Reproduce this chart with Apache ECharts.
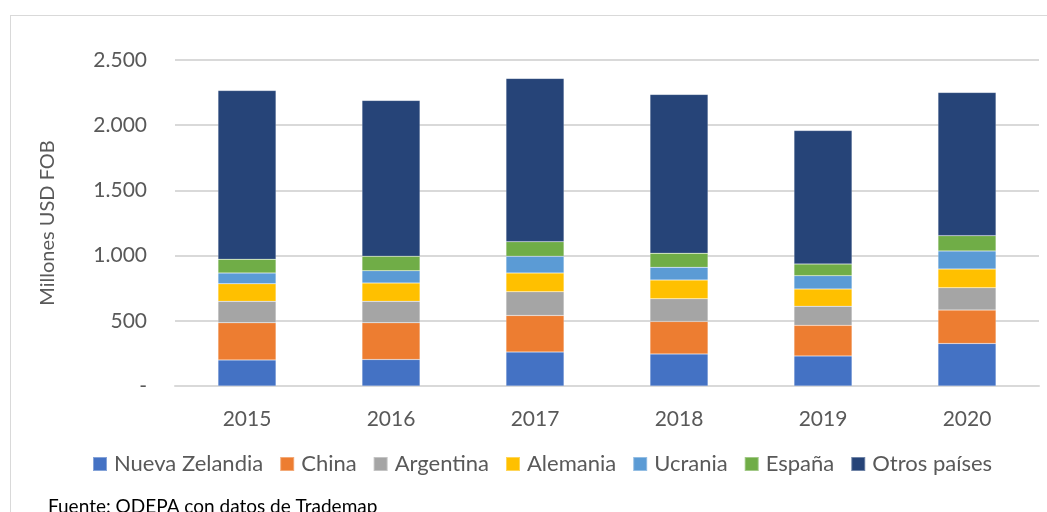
<!DOCTYPE html>
<html>
<head>
<meta charset="utf-8">
<script src="https://cdn.jsdelivr.net/npm/echarts@6/dist/echarts.min.js"></script>
<style>
  html, body { margin: 0; padding: 0; background: #fff; }
  #wrap { position: relative; width: 1047px; height: 512px; overflow: hidden; }
  #frame { position: absolute; left: 10px; top: 15px; width: 1050px; height: 520px;
           border-left: 1px solid #d9d9d9; border-top: 1px solid #d9d9d9; }
  #myChart { position: absolute; left: 0; top: 0; width: 1047px; height: 512px; }
</style>
</head>
<body>
<div id="wrap">
  <div id="frame"></div>
  <div id="myChart"></div>
</div>
<script>
// años
const years = ['2015', '2016', '2017', '2018', '2019', '2020']
// millones USD FOB por destino
const nuevaZelandia = [200, 203, 261, 246, 231, 326]
const china = [285, 282, 280, 249, 234, 256]
const argentina = [164, 164, 182, 174, 146, 172]
const alemania = [135, 141, 144, 144, 133, 143]
const ucrania = [83, 94, 128, 97, 102, 139]
const espana = [105, 111, 112, 108, 90, 117]
const otrosPaises = [1294, 1195, 1252, 1218, 1023, 1098]
const yTicks = [0, 500, 1000, 1500, 2000, 2500]

const seriesDefs = [
    { name: 'Nueva Zelandia', data: nuevaZelandia, color: '#4472C4' },
    { name: 'China', data: china, color: '#ED7D31' },
    { name: 'Argentina', data: argentina, color: '#A5A5A5' },
    { name: 'Alemania', data: alemania, color: '#FFC000' },
    { name: 'Ucrania', data: ucrania, color: '#5B9BD5' },
    { name: 'España', data: espana, color: '#70AD47' },
    { name: 'Otros países', data: otrosPaises, color: '#264478' }
]

const font = 'Lato, "Open Sans", sans-serif'
let myChart = echarts.init(document.getElementById('myChart'))
myChart.setOption({
    animation: false,
    textStyle: { fontFamily: font },
    color: seriesDefs.map(s => s.color),
    grid: { left: 175, right: 8, top: 60, bottom: 126, containLabel: false },
    legend: {
        top: 448,
        left: 87,
        itemWidth: 14,
        itemHeight: 14,
        itemGap: 16,
        icon: 'rect',
        textStyle: { fontSize: 22, color: '#595959', fontFamily: font, padding: [0, 0, 0, 2] },
        data: seriesDefs.map(s => s.name)
    },
    xAxis: {
        type: 'category',
        data: years,
        axisTick: { show: false },
        axisLine: { lineStyle: { color: '#d9d9d9', width: 2 } },
        axisLabel: { fontSize: 21, color: '#595959', margin: 23 }
    },
    yAxis: {
        type: 'value',
        min: yTicks[0],
        max: yTicks[yTicks.length - 1],
        interval: 500,
        name: 'Millones USD FOB',
        nameLocation: 'middle',
        nameGap: 117,
        nameTextStyle: { fontSize: 20, color: '#595959' },
        axisLine: { show: false },
        axisTick: { show: false },
        splitLine: { lineStyle: { color: '#d9d9d9', width: 2 } },
        axisLabel: {
            fontSize: 21,
            color: '#595959',
            margin: 28,
            formatter: function (v) {
                if (v === 0) return '-'
                return String(v).replace(/\B(?=(\d{3})+(?!\d))/g, '.')
            }
        }
    },
    series: seriesDefs.map(s => ({
        name: s.name,
        type: 'bar',
        stack: 'total',
        barWidth: 58,
        data: s.data,
        itemStyle: { color: s.color, borderColor: 'rgba(255,255,255,0.35)', borderWidth: 0.5 }
    })),
    graphic: [{
        type: 'text',
        left: 48,
        top: 497,
        style: { text: 'Fuente: ODEPA con datos de Trademap', fontSize: 19, fill: '#000', fontFamily: font }
    }]
})
</script>
</body>
</html>
